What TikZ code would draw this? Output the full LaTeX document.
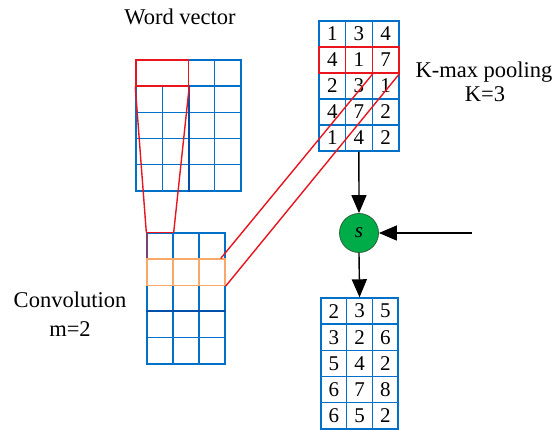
\documentclass[tikz,border=0pt]{standalone}
\usepackage{fontspec}
\newfontfamily\tnr{Liberation Serif}
\usetikzlibrary{arrows.meta,calc}
\definecolor{gblue}{RGB}{0,112,200}
\definecolor{dblue}{RGB}{0,80,170}
\definecolor{gred}{RGB}{232,20,30}
\definecolor{gorange}{RGB}{248,168,105}
\definecolor{ggreen}{RGB}{0,172,72}
\definecolor{dgreen}{RGB}{40,100,60}
\begin{document}
\begin{tikzpicture}[x=1pt,y=-1pt,
  wcell/.style={draw=gblue,line width=1.4pt,inner sep=0pt,minimum width=26.25pt,minimum height=26.2pt},
  ccell/.style={draw=gblue,line width=1.4pt,inner sep=0pt,minimum width=26pt,minimum height=26.2pt},
  pcell/.style={draw=gblue,line width=1.4pt,inner sep=0pt,minimum width=26.6pt,minimum height=26pt,font=\tnr\fontsize{21}{21}\selectfont},
  ocell/.style={draw=gblue,line width=1.4pt,inner sep=0pt,minimum width=25.7pt,minimum height=26.2pt,font=\tnr\fontsize{21}{21}\selectfont},
  redline/.style={draw=gred,line width=1.4pt},
  lab/.style={font=\tnr\fontsize{22.5}{22.5}\selectfont,inner sep=0pt,anchor=base},
  arr/.style={line width=1.4pt,-{Triangle[length=18pt,width=15pt]}}]
\useasboundingbox (0,0) rectangle (558,430);

% Word vector grid
\foreach \r in {2,...,5}
  \foreach \c in {1,...,4}
    \node[wcell] (wv-\r-\c) at ({136+(\c-0.5)*26.25},{60+(\r-0.5)*26.2}) {};
\foreach \c in {3,4}
  \node[wcell] (wv-1-\c) at ({136+(\c-0.5)*26.25},{60+0.5*26.2}) {};
\draw[dblue,line width=1.6pt] (wv-2-2.north east) -- (wv-5-2.south east);
\node[wcell,draw=gred,minimum width=52.5pt] (wv-1-12) at (162.25,73.1) {};

% Convolution grid
\foreach \r in {1,...,5}
  \foreach \c in {1,...,3}
    \node[ccell] (cv-\r-\c) at ({147+(\c-0.5)*26},{233+(\r-0.5)*26.2}) {};
\draw[dblue,line width=1.6pt] (cv-4-1.north west) -- (cv-4-3.north east);
\foreach \c in {1,...,3}
  \node[ccell,draw=gorange] at (cv-2-\c) {};
\draw[redline] (cv-2-1.north west) -- (cv-1-1.north west) -- (cv-1-1.north east);
\draw[redline] (wv-1-12.south west) -- (cv-1-1.north west);
\draw[redline] (wv-1-12.south east) -- (cv-1-1.north east);

% Pooling grid
\foreach \r/\vals in {1/{1,3,4},2/{4,1,7},3/{2,3,1},4/{4,7,2},5/{1,4,2}}
  \foreach \v [count=\c] in \vals
    \node[pcell] (p-\r-\c) at ({319+(\c-0.5)*26.6},{21+(\r-0.5)*26}) {\v};
\foreach \c in {1,...,3}
  \node[pcell,draw=gred] at (p-2-\c) {};
\coordinate (c1) at ($(cv-2-3.north east)+(-5,0)$);
\draw[redline] (p-2-2.south east) -- (c1);
\draw[redline] (p-2-3.south east) -- (cv-2-3.south east);

% Output grid
\foreach \r/\vals in {1/{2,3,5},2/{3,2,6},3/{5,4,2},4/{6,7,8},5/{6,5,2}}
  \foreach \v [count=\c] in \vals
    \node[ocell] (o-\r-\c) at ({321+(\c-0.5)*25.7},{298+(\r-0.5)*26.2}) {\v};

% S node and arrows
\node[circle,fill=ggreen,draw=dgreen,line width=0.8pt,minimum size=39pt,inner sep=0pt,font=\tnr\fontsize{21}{21}\selectfont\itshape] (s) at (359,233) {s};
\coordinate (in) at (472,233);
\draw[arr] (p-5-2.south) -- (s.north);
\draw[arr] (in) -- (s.east);
\draw[arr] (s.south) -- (o-1-2.north);

% Labels
\node[lab] (wvl) at (180,25) {Word vector};
\node[lab] (kl1) at (484,78) {K-max pooling};
\node[lab] (kl2) at (485,102) {K=3};
\node[lab] (cl1) at (70,308) {Convolution};
\node[lab] (cl2) at (70,337) {m=2};
\end{tikzpicture}
\end{document}
